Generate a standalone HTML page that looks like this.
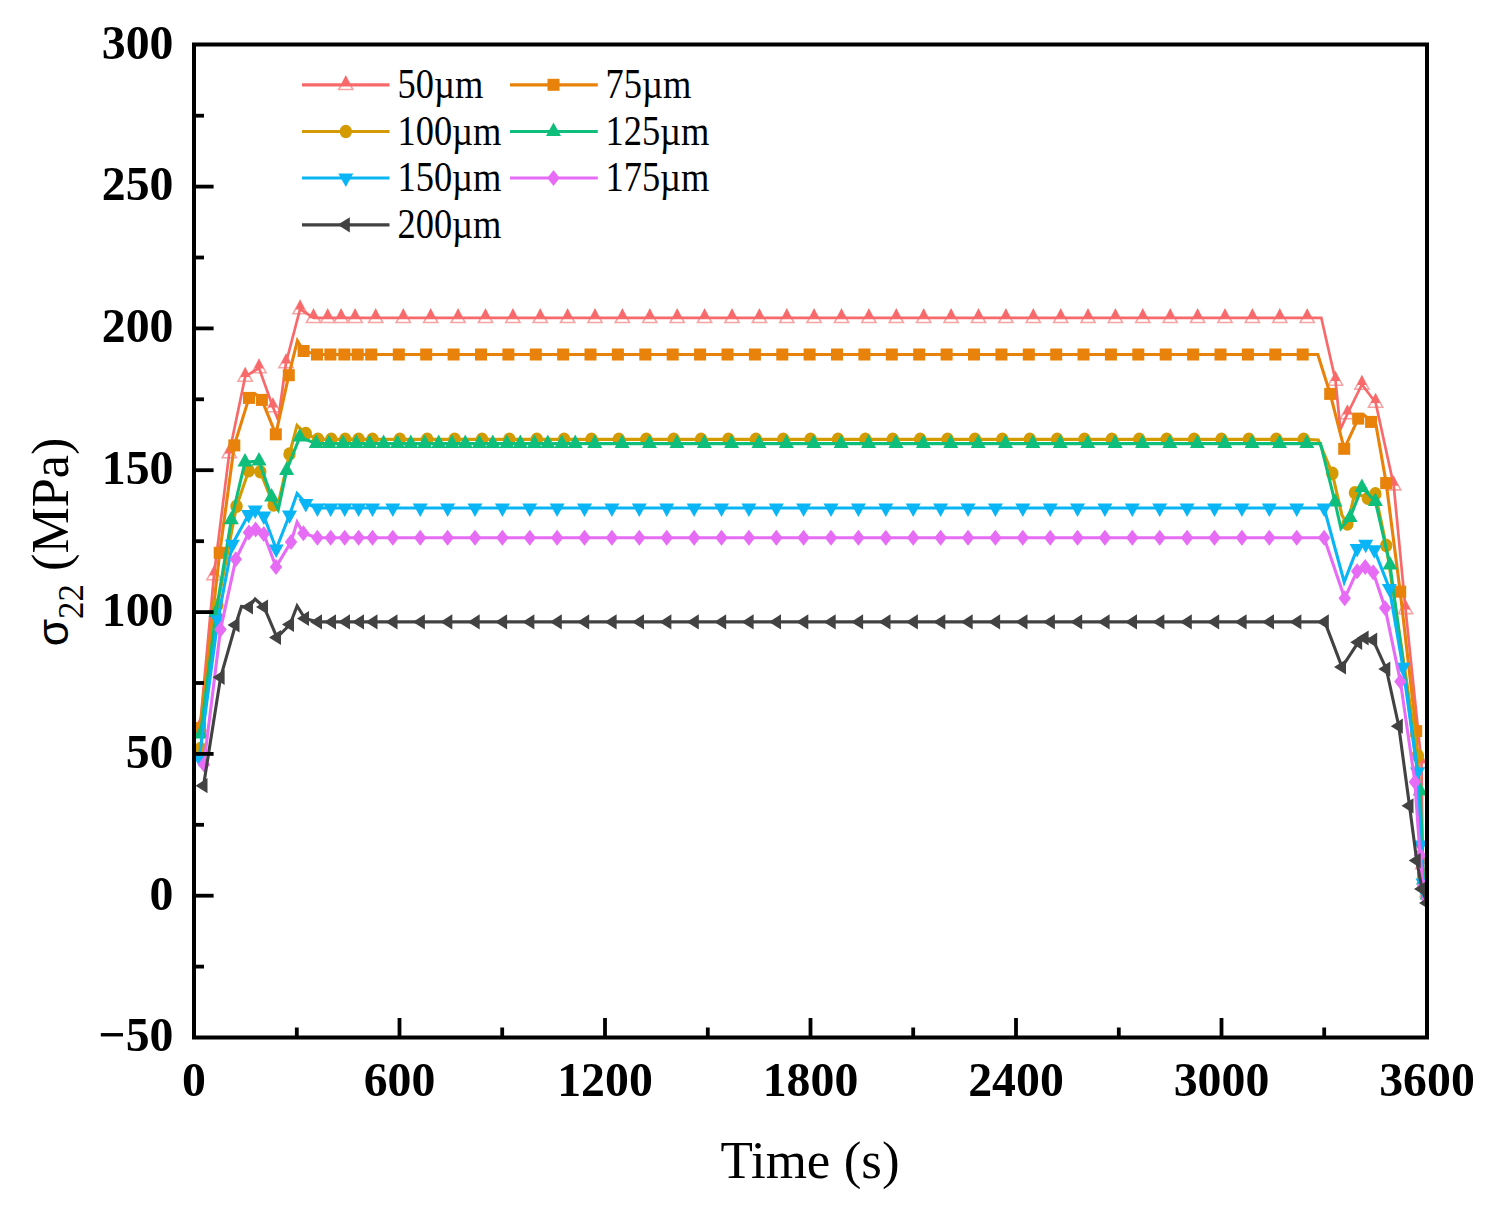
<!DOCTYPE html>
<html><head><meta charset="utf-8"><style>
html,body{margin:0;padding:0;background:#fff;}
svg{display:block;}
.tk{font-family:"Liberation Serif",serif;font-weight:bold;font-size:49px;fill:#000;}
.lg{font-family:"Liberation Serif",serif;font-size:42px;fill:#000;}
.ti{font-family:"Liberation Serif",serif;font-size:53px;fill:#000;}
</style></head><body>
<svg width="1492" height="1207" viewBox="0 0 1492 1207">
<rect width="1492" height="1207" fill="#fff"/>
<defs><clipPath id="pc"><rect x="194" y="44.5" width="1233" height="993"/></clipPath></defs><g clip-path="url(#pc)"><path d="M200.0,719.0L207.1,731.7L192.9,731.7Z" fill="#fff" stroke="#F6A3A3" stroke-width="1.6"/><path d="M200.0,717.4L204.8,727.5L195.2,727.5Z" fill="#F8696B"/><path d="M214.0,567.0L221.1,579.7L206.9,579.7Z" fill="#fff" stroke="#F6A3A3" stroke-width="1.6"/><path d="M214.0,565.4L218.8,575.5L209.2,575.5Z" fill="#F8696B"/><path d="M229.3,445.0L236.4,457.7L222.2,457.7Z" fill="#fff" stroke="#F6A3A3" stroke-width="1.6"/><path d="M229.3,443.4L234.1,453.5L224.5,453.5Z" fill="#F8696B"/><path d="M245.2,368.5L252.3,381.2L238.1,381.2Z" fill="#fff" stroke="#F6A3A3" stroke-width="1.6"/><path d="M245.2,366.9L250.0,377.0L240.4,377.0Z" fill="#F8696B"/><path d="M259.0,360.0L266.1,372.7L251.9,372.7Z" fill="#fff" stroke="#F6A3A3" stroke-width="1.6"/><path d="M259.0,358.4L263.8,368.5L254.2,368.5Z" fill="#F8696B"/><path d="M272.9,399.0L280.0,411.7L265.8,411.7Z" fill="#fff" stroke="#F6A3A3" stroke-width="1.6"/><path d="M272.9,397.4L277.7,407.5L268.1,407.5Z" fill="#F8696B"/><path d="M286.0,355.0L293.1,367.7L278.9,367.7Z" fill="#fff" stroke="#F6A3A3" stroke-width="1.6"/><path d="M286.0,353.4L290.8,363.5L281.2,363.5Z" fill="#F8696B"/><path d="M300.1,301.0L307.2,313.7L293.0,313.7Z" fill="#fff" stroke="#F6A3A3" stroke-width="1.6"/><path d="M300.1,299.4L304.9,309.5L295.3,309.5Z" fill="#F8696B"/><path d="M313.5,309.8L320.6,322.5L306.4,322.5Z" fill="#fff" stroke="#F6A3A3" stroke-width="1.6"/><path d="M313.5,308.2L318.3,318.3L308.7,318.3Z" fill="#F8696B"/><path d="M327.7,309.8L334.8,322.5L320.6,322.5Z" fill="#fff" stroke="#F6A3A3" stroke-width="1.6"/><path d="M327.7,308.2L332.5,318.3L322.9,318.3Z" fill="#F8696B"/><path d="M341.1,309.8L348.2,322.5L334.0,322.5Z" fill="#fff" stroke="#F6A3A3" stroke-width="1.6"/><path d="M341.1,308.2L345.9,318.3L336.3,318.3Z" fill="#F8696B"/><path d="M355.1,309.8L362.2,322.5L348.0,322.5Z" fill="#fff" stroke="#F6A3A3" stroke-width="1.6"/><path d="M355.1,308.2L359.9,318.3L350.3,318.3Z" fill="#F8696B"/><path d="M375.7,309.8L382.8,322.5L368.6,322.5Z" fill="#fff" stroke="#F6A3A3" stroke-width="1.6"/><path d="M375.7,308.2L380.5,318.3L370.9,318.3Z" fill="#F8696B"/><path d="M403.3,309.8L410.4,322.5L396.2,322.5Z" fill="#fff" stroke="#F6A3A3" stroke-width="1.6"/><path d="M403.3,308.2L408.1,318.3L398.5,318.3Z" fill="#F8696B"/><path d="M430.7,309.8L437.8,322.5L423.6,322.5Z" fill="#fff" stroke="#F6A3A3" stroke-width="1.6"/><path d="M430.7,308.2L435.5,318.3L425.9,318.3Z" fill="#F8696B"/><path d="M458.1,309.8L465.2,322.5L451.0,322.5Z" fill="#fff" stroke="#F6A3A3" stroke-width="1.6"/><path d="M458.1,308.2L462.9,318.3L453.3,318.3Z" fill="#F8696B"/><path d="M485.5,309.8L492.6,322.5L478.4,322.5Z" fill="#fff" stroke="#F6A3A3" stroke-width="1.6"/><path d="M485.5,308.2L490.3,318.3L480.7,318.3Z" fill="#F8696B"/><path d="M512.9,309.8L520.0,322.5L505.8,322.5Z" fill="#fff" stroke="#F6A3A3" stroke-width="1.6"/><path d="M512.9,308.2L517.7,318.3L508.1,318.3Z" fill="#F8696B"/><path d="M540.2,309.8L547.4,322.5L533.1,322.5Z" fill="#fff" stroke="#F6A3A3" stroke-width="1.6"/><path d="M540.2,308.2L545.0,318.3L535.5,318.3Z" fill="#F8696B"/><path d="M567.6,309.8L574.7,322.5L560.5,322.5Z" fill="#fff" stroke="#F6A3A3" stroke-width="1.6"/><path d="M567.6,308.2L572.4,318.3L562.8,318.3Z" fill="#F8696B"/><path d="M595.0,309.8L602.1,322.5L587.9,322.5Z" fill="#fff" stroke="#F6A3A3" stroke-width="1.6"/><path d="M595.0,308.2L599.8,318.3L590.2,318.3Z" fill="#F8696B"/><path d="M622.4,309.8L629.5,322.5L615.3,322.5Z" fill="#fff" stroke="#F6A3A3" stroke-width="1.6"/><path d="M622.4,308.2L627.2,318.3L617.6,318.3Z" fill="#F8696B"/><path d="M649.8,309.8L656.9,322.5L642.7,322.5Z" fill="#fff" stroke="#F6A3A3" stroke-width="1.6"/><path d="M649.8,308.2L654.6,318.3L645.0,318.3Z" fill="#F8696B"/><path d="M677.2,309.8L684.3,322.5L670.1,322.5Z" fill="#fff" stroke="#F6A3A3" stroke-width="1.6"/><path d="M677.2,308.2L682.0,318.3L672.4,318.3Z" fill="#F8696B"/><path d="M704.6,309.8L711.7,322.5L697.5,322.5Z" fill="#fff" stroke="#F6A3A3" stroke-width="1.6"/><path d="M704.6,308.2L709.4,318.3L699.8,318.3Z" fill="#F8696B"/><path d="M732.0,309.8L739.1,322.5L724.9,322.5Z" fill="#fff" stroke="#F6A3A3" stroke-width="1.6"/><path d="M732.0,308.2L736.8,318.3L727.2,318.3Z" fill="#F8696B"/><path d="M759.4,309.8L766.5,322.5L752.3,322.5Z" fill="#fff" stroke="#F6A3A3" stroke-width="1.6"/><path d="M759.4,308.2L764.2,318.3L754.6,318.3Z" fill="#F8696B"/><path d="M786.8,309.8L793.9,322.5L779.7,322.5Z" fill="#fff" stroke="#F6A3A3" stroke-width="1.6"/><path d="M786.8,308.2L791.6,318.3L782.0,318.3Z" fill="#F8696B"/><path d="M814.1,309.8L821.2,322.5L807.0,322.5Z" fill="#fff" stroke="#F6A3A3" stroke-width="1.6"/><path d="M814.1,308.2L818.9,318.3L809.3,318.3Z" fill="#F8696B"/><path d="M841.5,309.8L848.6,322.5L834.4,322.5Z" fill="#fff" stroke="#F6A3A3" stroke-width="1.6"/><path d="M841.5,308.2L846.3,318.3L836.7,318.3Z" fill="#F8696B"/><path d="M868.9,309.8L876.0,322.5L861.8,322.5Z" fill="#fff" stroke="#F6A3A3" stroke-width="1.6"/><path d="M868.9,308.2L873.7,318.3L864.1,318.3Z" fill="#F8696B"/><path d="M896.3,309.8L903.4,322.5L889.2,322.5Z" fill="#fff" stroke="#F6A3A3" stroke-width="1.6"/><path d="M896.3,308.2L901.1,318.3L891.5,318.3Z" fill="#F8696B"/><path d="M923.7,309.8L930.8,322.5L916.6,322.5Z" fill="#fff" stroke="#F6A3A3" stroke-width="1.6"/><path d="M923.7,308.2L928.5,318.3L918.9,318.3Z" fill="#F8696B"/><path d="M951.1,309.8L958.2,322.5L944.0,322.5Z" fill="#fff" stroke="#F6A3A3" stroke-width="1.6"/><path d="M951.1,308.2L955.9,318.3L946.3,318.3Z" fill="#F8696B"/><path d="M978.5,309.8L985.6,322.5L971.4,322.5Z" fill="#fff" stroke="#F6A3A3" stroke-width="1.6"/><path d="M978.5,308.2L983.3,318.3L973.7,318.3Z" fill="#F8696B"/><path d="M1005.9,309.8L1013.0,322.5L998.8,322.5Z" fill="#fff" stroke="#F6A3A3" stroke-width="1.6"/><path d="M1005.9,308.2L1010.7,318.3L1001.1,318.3Z" fill="#F8696B"/><path d="M1033.3,309.8L1040.4,322.5L1026.2,322.5Z" fill="#fff" stroke="#F6A3A3" stroke-width="1.6"/><path d="M1033.3,308.2L1038.1,318.3L1028.5,318.3Z" fill="#F8696B"/><path d="M1060.7,309.8L1067.8,322.5L1053.6,322.5Z" fill="#fff" stroke="#F6A3A3" stroke-width="1.6"/><path d="M1060.7,308.2L1065.5,318.3L1055.9,318.3Z" fill="#F8696B"/><path d="M1088.0,309.8L1095.1,322.5L1081.0,322.5Z" fill="#fff" stroke="#F6A3A3" stroke-width="1.6"/><path d="M1088.0,308.2L1092.8,318.3L1083.2,318.3Z" fill="#F8696B"/><path d="M1115.4,309.8L1122.5,322.5L1108.3,322.5Z" fill="#fff" stroke="#F6A3A3" stroke-width="1.6"/><path d="M1115.4,308.2L1120.2,318.3L1110.6,318.3Z" fill="#F8696B"/><path d="M1142.8,309.8L1149.9,322.5L1135.7,322.5Z" fill="#fff" stroke="#F6A3A3" stroke-width="1.6"/><path d="M1142.8,308.2L1147.6,318.3L1138.0,318.3Z" fill="#F8696B"/><path d="M1170.2,309.8L1177.3,322.5L1163.1,322.5Z" fill="#fff" stroke="#F6A3A3" stroke-width="1.6"/><path d="M1170.2,308.2L1175.0,318.3L1165.4,318.3Z" fill="#F8696B"/><path d="M1197.6,309.8L1204.7,322.5L1190.5,322.5Z" fill="#fff" stroke="#F6A3A3" stroke-width="1.6"/><path d="M1197.6,308.2L1202.4,318.3L1192.8,318.3Z" fill="#F8696B"/><path d="M1225.0,309.8L1232.1,322.5L1217.9,322.5Z" fill="#fff" stroke="#F6A3A3" stroke-width="1.6"/><path d="M1225.0,308.2L1229.8,318.3L1220.2,318.3Z" fill="#F8696B"/><path d="M1252.4,309.8L1259.5,322.5L1245.3,322.5Z" fill="#fff" stroke="#F6A3A3" stroke-width="1.6"/><path d="M1252.4,308.2L1257.2,318.3L1247.6,318.3Z" fill="#F8696B"/><path d="M1279.8,309.8L1286.9,322.5L1272.7,322.5Z" fill="#fff" stroke="#F6A3A3" stroke-width="1.6"/><path d="M1279.8,308.2L1284.6,318.3L1275.0,318.3Z" fill="#F8696B"/><path d="M1307.2,309.8L1314.3,322.5L1300.1,322.5Z" fill="#fff" stroke="#F6A3A3" stroke-width="1.6"/><path d="M1307.2,308.2L1312.0,318.3L1302.4,318.3Z" fill="#F8696B"/><path d="M1335.5,372.5L1342.6,385.2L1328.4,385.2Z" fill="#fff" stroke="#F6A3A3" stroke-width="1.6"/><path d="M1335.5,370.9L1340.3,381.0L1330.7,381.0Z" fill="#F8696B"/><path d="M1347.4,406.0L1354.5,418.7L1340.3,418.7Z" fill="#fff" stroke="#F6A3A3" stroke-width="1.6"/><path d="M1347.4,404.4L1352.2,414.5L1342.6,414.5Z" fill="#F8696B"/><path d="M1361.9,376.5L1369.0,389.2L1354.8,389.2Z" fill="#fff" stroke="#F6A3A3" stroke-width="1.6"/><path d="M1361.9,374.9L1366.7,385.0L1357.1,385.0Z" fill="#F8696B"/><path d="M1375.6,394.5L1382.7,407.2L1368.5,407.2Z" fill="#fff" stroke="#F6A3A3" stroke-width="1.6"/><path d="M1375.6,392.9L1380.4,403.0L1370.8,403.0Z" fill="#F8696B"/><path d="M1393.7,477.2L1400.8,489.9L1386.6,489.9Z" fill="#fff" stroke="#F6A3A3" stroke-width="1.6"/><path d="M1393.7,475.6L1398.5,485.7L1388.9,485.7Z" fill="#F8696B"/><path d="M1405.5,600.9L1412.6,613.6L1398.4,613.6Z" fill="#fff" stroke="#F6A3A3" stroke-width="1.6"/><path d="M1405.5,599.3L1410.3,609.4L1400.7,609.4Z" fill="#F8696B"/><path d="M1421.5,755.0L1428.6,767.7L1414.4,767.7Z" fill="#fff" stroke="#F6A3A3" stroke-width="1.6"/><path d="M1421.5,753.4L1426.3,763.5L1416.7,763.5Z" fill="#F8696B"/><path d="M1422.8,856.0L1429.9,868.7L1415.7,868.7Z" fill="#fff" stroke="#F6A3A3" stroke-width="1.6"/><path d="M1422.8,854.4L1427.6,864.5L1418.0,864.5Z" fill="#F8696B"/><path d="M1427.0,884.0L1434.1,896.7L1419.9,896.7Z" fill="#fff" stroke="#F6A3A3" stroke-width="1.6"/><path d="M1427.0,882.4L1431.8,892.5L1422.2,892.5Z" fill="#F8696B"/><path d="M200.0,727.0 L214.0,575.0 L229.3,453.0 L245.2,376.5 L259.0,368.0 L272.9,407.0 L278.2,420.0 L286.0,363.0 L300.1,309.0 L313.5,317.8 L327.7,317.8 L341.1,317.8 L355.1,317.8 L375.7,317.8 L403.3,317.8 L430.7,317.8 L458.1,317.8 L485.5,317.8 L512.9,317.8 L540.2,317.8 L567.6,317.8 L595.0,317.8 L622.4,317.8 L649.8,317.8 L677.2,317.8 L704.6,317.8 L732.0,317.8 L759.4,317.8 L786.8,317.8 L814.1,317.8 L841.5,317.8 L868.9,317.8 L896.3,317.8 L923.7,317.8 L951.1,317.8 L978.5,317.8 L1005.9,317.8 L1033.3,317.8 L1060.7,317.8 L1088.0,317.8 L1115.4,317.8 L1142.8,317.8 L1170.2,317.8 L1197.6,317.8 L1225.0,317.8 L1252.4,317.8 L1279.8,317.8 L1307.2,317.8 L1321.3,317.8 L1335.5,380.5 L1340.4,429.4 L1347.4,414.0 L1361.9,384.5 L1375.6,402.5 L1393.7,485.2 L1405.5,608.9 L1421.5,763.0 L1422.8,864.0 L1427.0,892.0" fill="none" stroke="#F8696B" stroke-width="2.7" stroke-linejoin="miter"/>
<path d="M200.0,728.0 L219.7,552.8 L234.3,445.4 L249.0,397.9 L255.2,394.0 L261.9,399.9 L275.8,434.3 L288.8,375.2 L297.4,340.7 L303.6,351.0 L317.0,354.5 L330.4,354.5 L344.3,354.5 L357.7,354.5 L371.2,354.5 L398.8,354.5 L426.2,354.5 L453.6,354.5 L481.0,354.5 L508.4,354.5 L535.8,354.5 L563.1,354.5 L590.5,354.5 L617.9,354.5 L645.3,354.5 L672.7,354.5 L700.1,354.5 L727.5,354.5 L754.9,354.5 L782.3,354.5 L809.6,354.5 L837.0,354.5 L864.4,354.5 L891.8,354.5 L919.2,354.5 L946.6,354.5 L974.0,354.5 L1001.4,354.5 L1028.8,354.5 L1056.2,354.5 L1083.5,354.5 L1110.9,354.5 L1138.3,354.5 L1165.7,354.5 L1193.1,354.5 L1220.5,354.5 L1247.9,354.5 L1275.3,354.5 L1302.7,354.5 L1317.8,354.5 L1330.2,393.9 L1344.2,448.8 L1358.2,418.6 L1364.6,415.4 L1371.1,421.9 L1376.0,425.0 L1386.2,483.1 L1400.2,591.7 L1416.2,731.1 L1423.0,878.0 L1427.0,892.0" fill="none" stroke="#E8820A" stroke-width="3.1" stroke-linejoin="miter"/><rect x="194.0" y="722.0" width="12" height="12" fill="#E8820A"/><rect x="213.7" y="546.8" width="12" height="12" fill="#E8820A"/><rect x="228.3" y="439.4" width="12" height="12" fill="#E8820A"/><rect x="243.0" y="391.9" width="12" height="12" fill="#E8820A"/><rect x="255.9" y="393.9" width="12" height="12" fill="#E8820A"/><rect x="269.8" y="428.3" width="12" height="12" fill="#E8820A"/><rect x="282.8" y="369.2" width="12" height="12" fill="#E8820A"/><rect x="297.6" y="345.0" width="12" height="12" fill="#E8820A"/><rect x="311.0" y="348.5" width="12" height="12" fill="#E8820A"/><rect x="324.4" y="348.5" width="12" height="12" fill="#E8820A"/><rect x="338.3" y="348.5" width="12" height="12" fill="#E8820A"/><rect x="351.7" y="348.5" width="12" height="12" fill="#E8820A"/><rect x="365.2" y="348.5" width="12" height="12" fill="#E8820A"/><rect x="392.8" y="348.5" width="12" height="12" fill="#E8820A"/><rect x="420.2" y="348.5" width="12" height="12" fill="#E8820A"/><rect x="447.6" y="348.5" width="12" height="12" fill="#E8820A"/><rect x="475.0" y="348.5" width="12" height="12" fill="#E8820A"/><rect x="502.4" y="348.5" width="12" height="12" fill="#E8820A"/><rect x="529.8" y="348.5" width="12" height="12" fill="#E8820A"/><rect x="557.1" y="348.5" width="12" height="12" fill="#E8820A"/><rect x="584.5" y="348.5" width="12" height="12" fill="#E8820A"/><rect x="611.9" y="348.5" width="12" height="12" fill="#E8820A"/><rect x="639.3" y="348.5" width="12" height="12" fill="#E8820A"/><rect x="666.7" y="348.5" width="12" height="12" fill="#E8820A"/><rect x="694.1" y="348.5" width="12" height="12" fill="#E8820A"/><rect x="721.5" y="348.5" width="12" height="12" fill="#E8820A"/><rect x="748.9" y="348.5" width="12" height="12" fill="#E8820A"/><rect x="776.3" y="348.5" width="12" height="12" fill="#E8820A"/><rect x="803.6" y="348.5" width="12" height="12" fill="#E8820A"/><rect x="831.0" y="348.5" width="12" height="12" fill="#E8820A"/><rect x="858.4" y="348.5" width="12" height="12" fill="#E8820A"/><rect x="885.8" y="348.5" width="12" height="12" fill="#E8820A"/><rect x="913.2" y="348.5" width="12" height="12" fill="#E8820A"/><rect x="940.6" y="348.5" width="12" height="12" fill="#E8820A"/><rect x="968.0" y="348.5" width="12" height="12" fill="#E8820A"/><rect x="995.4" y="348.5" width="12" height="12" fill="#E8820A"/><rect x="1022.8" y="348.5" width="12" height="12" fill="#E8820A"/><rect x="1050.2" y="348.5" width="12" height="12" fill="#E8820A"/><rect x="1077.5" y="348.5" width="12" height="12" fill="#E8820A"/><rect x="1104.9" y="348.5" width="12" height="12" fill="#E8820A"/><rect x="1132.3" y="348.5" width="12" height="12" fill="#E8820A"/><rect x="1159.7" y="348.5" width="12" height="12" fill="#E8820A"/><rect x="1187.1" y="348.5" width="12" height="12" fill="#E8820A"/><rect x="1214.5" y="348.5" width="12" height="12" fill="#E8820A"/><rect x="1241.9" y="348.5" width="12" height="12" fill="#E8820A"/><rect x="1269.3" y="348.5" width="12" height="12" fill="#E8820A"/><rect x="1296.7" y="348.5" width="12" height="12" fill="#E8820A"/><rect x="1324.2" y="387.9" width="12" height="12" fill="#E8820A"/><rect x="1338.2" y="442.8" width="12" height="12" fill="#E8820A"/><rect x="1352.2" y="412.6" width="12" height="12" fill="#E8820A"/><rect x="1365.1" y="415.9" width="12" height="12" fill="#E8820A"/><rect x="1380.2" y="477.1" width="12" height="12" fill="#E8820A"/><rect x="1394.2" y="585.7" width="12" height="12" fill="#E8820A"/><rect x="1410.2" y="725.1" width="12" height="12" fill="#E8820A"/><rect x="1417.0" y="872.0" width="12" height="12" fill="#E8820A"/><rect x="1421.0" y="886.0" width="12" height="12" fill="#E8820A"/>
<path d="M200.6,748.6 L217.5,605.0 L236.5,506.3 L248.7,470.8 L260.3,471.8 L273.6,505.0 L277.0,509.0 L289.5,454.0 L297.0,425.5 L305.8,433.6 L318.0,439.4 L331.3,439.4 L345.2,439.4 L358.6,439.4 L372.5,439.4 L399.8,439.4 L427.2,439.4 L454.6,439.4 L482.0,439.4 L509.4,439.4 L536.8,439.4 L564.1,439.4 L591.5,439.4 L618.9,439.4 L646.3,439.4 L673.7,439.4 L701.1,439.4 L728.5,439.4 L755.9,439.4 L783.3,439.4 L810.6,439.4 L838.0,439.4 L865.4,439.4 L892.8,439.4 L920.2,439.4 L947.6,439.4 L975.0,439.4 L1002.4,439.4 L1029.8,439.4 L1057.2,439.4 L1084.5,439.4 L1111.9,439.4 L1139.3,439.4 L1166.7,439.4 L1194.1,439.4 L1221.5,439.4 L1248.9,439.4 L1276.3,439.4 L1303.7,439.4 L1318.3,440.0 L1332.3,473.4 L1342.0,515.4 L1347.4,524.0 L1354.9,492.8 L1367.9,498.2 L1375.4,493.9 L1386.2,545.5 L1417.8,755.6 L1423.0,877.0 L1427.0,894.0" fill="none" stroke="#D49A02" stroke-width="3.1" stroke-linejoin="miter"/><ellipse cx="200.6" cy="748.6" rx="6.2" ry="6.8" fill="#D49A02"/><ellipse cx="217.5" cy="605.0" rx="6.2" ry="6.8" fill="#D49A02"/><ellipse cx="236.5" cy="506.3" rx="6.2" ry="6.8" fill="#D49A02"/><ellipse cx="248.7" cy="470.8" rx="6.2" ry="6.8" fill="#D49A02"/><ellipse cx="260.3" cy="471.8" rx="6.2" ry="6.8" fill="#D49A02"/><ellipse cx="273.6" cy="505.0" rx="6.2" ry="6.8" fill="#D49A02"/><ellipse cx="289.5" cy="454.0" rx="6.2" ry="6.8" fill="#D49A02"/><ellipse cx="305.8" cy="433.6" rx="6.2" ry="6.8" fill="#D49A02"/><ellipse cx="318.0" cy="439.4" rx="6.2" ry="6.8" fill="#D49A02"/><ellipse cx="331.3" cy="439.4" rx="6.2" ry="6.8" fill="#D49A02"/><ellipse cx="345.2" cy="439.4" rx="6.2" ry="6.8" fill="#D49A02"/><ellipse cx="358.6" cy="439.4" rx="6.2" ry="6.8" fill="#D49A02"/><ellipse cx="372.5" cy="439.4" rx="6.2" ry="6.8" fill="#D49A02"/><ellipse cx="399.8" cy="439.4" rx="6.2" ry="6.8" fill="#D49A02"/><ellipse cx="427.2" cy="439.4" rx="6.2" ry="6.8" fill="#D49A02"/><ellipse cx="454.6" cy="439.4" rx="6.2" ry="6.8" fill="#D49A02"/><ellipse cx="482.0" cy="439.4" rx="6.2" ry="6.8" fill="#D49A02"/><ellipse cx="509.4" cy="439.4" rx="6.2" ry="6.8" fill="#D49A02"/><ellipse cx="536.8" cy="439.4" rx="6.2" ry="6.8" fill="#D49A02"/><ellipse cx="564.1" cy="439.4" rx="6.2" ry="6.8" fill="#D49A02"/><ellipse cx="591.5" cy="439.4" rx="6.2" ry="6.8" fill="#D49A02"/><ellipse cx="618.9" cy="439.4" rx="6.2" ry="6.8" fill="#D49A02"/><ellipse cx="646.3" cy="439.4" rx="6.2" ry="6.8" fill="#D49A02"/><ellipse cx="673.7" cy="439.4" rx="6.2" ry="6.8" fill="#D49A02"/><ellipse cx="701.1" cy="439.4" rx="6.2" ry="6.8" fill="#D49A02"/><ellipse cx="728.5" cy="439.4" rx="6.2" ry="6.8" fill="#D49A02"/><ellipse cx="755.9" cy="439.4" rx="6.2" ry="6.8" fill="#D49A02"/><ellipse cx="783.3" cy="439.4" rx="6.2" ry="6.8" fill="#D49A02"/><ellipse cx="810.6" cy="439.4" rx="6.2" ry="6.8" fill="#D49A02"/><ellipse cx="838.0" cy="439.4" rx="6.2" ry="6.8" fill="#D49A02"/><ellipse cx="865.4" cy="439.4" rx="6.2" ry="6.8" fill="#D49A02"/><ellipse cx="892.8" cy="439.4" rx="6.2" ry="6.8" fill="#D49A02"/><ellipse cx="920.2" cy="439.4" rx="6.2" ry="6.8" fill="#D49A02"/><ellipse cx="947.6" cy="439.4" rx="6.2" ry="6.8" fill="#D49A02"/><ellipse cx="975.0" cy="439.4" rx="6.2" ry="6.8" fill="#D49A02"/><ellipse cx="1002.4" cy="439.4" rx="6.2" ry="6.8" fill="#D49A02"/><ellipse cx="1029.8" cy="439.4" rx="6.2" ry="6.8" fill="#D49A02"/><ellipse cx="1057.2" cy="439.4" rx="6.2" ry="6.8" fill="#D49A02"/><ellipse cx="1084.5" cy="439.4" rx="6.2" ry="6.8" fill="#D49A02"/><ellipse cx="1111.9" cy="439.4" rx="6.2" ry="6.8" fill="#D49A02"/><ellipse cx="1139.3" cy="439.4" rx="6.2" ry="6.8" fill="#D49A02"/><ellipse cx="1166.7" cy="439.4" rx="6.2" ry="6.8" fill="#D49A02"/><ellipse cx="1194.1" cy="439.4" rx="6.2" ry="6.8" fill="#D49A02"/><ellipse cx="1221.5" cy="439.4" rx="6.2" ry="6.8" fill="#D49A02"/><ellipse cx="1248.9" cy="439.4" rx="6.2" ry="6.8" fill="#D49A02"/><ellipse cx="1276.3" cy="439.4" rx="6.2" ry="6.8" fill="#D49A02"/><ellipse cx="1303.7" cy="439.4" rx="6.2" ry="6.8" fill="#D49A02"/><ellipse cx="1332.3" cy="473.4" rx="6.2" ry="6.8" fill="#D49A02"/><ellipse cx="1347.4" cy="524.0" rx="6.2" ry="6.8" fill="#D49A02"/><ellipse cx="1354.9" cy="492.8" rx="6.2" ry="6.8" fill="#D49A02"/><ellipse cx="1367.9" cy="498.2" rx="6.2" ry="6.8" fill="#D49A02"/><ellipse cx="1375.4" cy="493.9" rx="6.2" ry="6.8" fill="#D49A02"/><ellipse cx="1386.2" cy="545.5" rx="6.2" ry="6.8" fill="#D49A02"/><ellipse cx="1417.8" cy="755.6" rx="6.2" ry="6.8" fill="#D49A02"/><ellipse cx="1423.0" cy="877.0" rx="6.2" ry="6.8" fill="#D49A02"/><ellipse cx="1427.0" cy="894.0" rx="6.2" ry="6.8" fill="#D49A02"/>
<path d="M200.6,734.0 L216.0,612.5 L231.3,519.7 L245.0,462.1 L259.0,461.0 L271.6,497.0 L278.3,509.5 L286.6,470.5 L299.8,437.0 L316.2,443.6 L329.0,443.6 L343.0,443.6 L356.3,443.6 L369.6,443.6 L383.6,443.6 L397.5,443.6 L410.8,443.6 L424.7,443.6 L438.7,443.6 L452.0,443.6 L465.3,443.6 L479.4,443.6 L492.8,443.6 L506.9,443.6 L520.3,443.6 L534.4,443.6 L547.8,443.6 L561.8,443.6 L575.2,443.6 L594.7,443.6 L622.1,443.6 L649.5,443.6 L676.9,443.6 L704.3,443.6 L731.6,443.6 L759.0,443.6 L786.4,443.6 L813.8,443.6 L841.2,443.6 L868.6,443.6 L896.0,443.6 L923.4,443.6 L950.8,443.6 L978.2,443.6 L1005.5,443.6 L1032.9,443.6 L1060.3,443.6 L1087.7,443.6 L1115.1,443.6 L1142.5,443.6 L1169.9,443.6 L1197.3,443.6 L1224.7,443.6 L1252.1,443.6 L1279.5,443.6 L1306.8,443.6 L1320.5,443.6 L1335.0,502.0 L1340.9,528.3 L1350.1,517.5 L1361.9,487.4 L1375.4,501.4 L1390.0,565.0 L1420.2,791.1 L1423.5,880.0 L1427.0,895.0" fill="none" stroke="#10BE7C" stroke-width="3.1" stroke-linejoin="miter"/><path d="M200.6,725.0L208.1,738.5L193.1,738.5Z" fill="#10BE7C"/><path d="M216.0,603.5L223.5,617.0L208.5,617.0Z" fill="#10BE7C"/><path d="M231.3,510.7L238.8,524.2L223.8,524.2Z" fill="#10BE7C"/><path d="M245.0,453.1L252.5,466.6L237.5,466.6Z" fill="#10BE7C"/><path d="M259.0,452.0L266.5,465.5L251.5,465.5Z" fill="#10BE7C"/><path d="M271.6,488.0L279.1,501.5L264.1,501.5Z" fill="#10BE7C"/><path d="M286.6,461.5L294.1,475.0L279.1,475.0Z" fill="#10BE7C"/><path d="M299.8,428.0L307.3,441.5L292.3,441.5Z" fill="#10BE7C"/><path d="M316.2,434.6L323.7,448.1L308.7,448.1Z" fill="#10BE7C"/><path d="M329.0,434.6L336.5,448.1L321.5,448.1Z" fill="#10BE7C"/><path d="M343.0,434.6L350.5,448.1L335.5,448.1Z" fill="#10BE7C"/><path d="M356.3,434.6L363.8,448.1L348.8,448.1Z" fill="#10BE7C"/><path d="M369.6,434.6L377.1,448.1L362.1,448.1Z" fill="#10BE7C"/><path d="M383.6,434.6L391.1,448.1L376.1,448.1Z" fill="#10BE7C"/><path d="M397.5,434.6L405.0,448.1L390.0,448.1Z" fill="#10BE7C"/><path d="M410.8,434.6L418.3,448.1L403.3,448.1Z" fill="#10BE7C"/><path d="M424.7,434.6L432.2,448.1L417.2,448.1Z" fill="#10BE7C"/><path d="M438.7,434.6L446.2,448.1L431.2,448.1Z" fill="#10BE7C"/><path d="M452.0,434.6L459.5,448.1L444.5,448.1Z" fill="#10BE7C"/><path d="M465.3,434.6L472.8,448.1L457.8,448.1Z" fill="#10BE7C"/><path d="M479.4,434.6L486.9,448.1L471.9,448.1Z" fill="#10BE7C"/><path d="M492.8,434.6L500.3,448.1L485.3,448.1Z" fill="#10BE7C"/><path d="M506.9,434.6L514.4,448.1L499.4,448.1Z" fill="#10BE7C"/><path d="M520.3,434.6L527.8,448.1L512.8,448.1Z" fill="#10BE7C"/><path d="M534.4,434.6L541.9,448.1L526.9,448.1Z" fill="#10BE7C"/><path d="M547.8,434.6L555.3,448.1L540.3,448.1Z" fill="#10BE7C"/><path d="M561.8,434.6L569.3,448.1L554.3,448.1Z" fill="#10BE7C"/><path d="M575.2,434.6L582.7,448.1L567.7,448.1Z" fill="#10BE7C"/><path d="M594.7,434.6L602.2,448.1L587.2,448.1Z" fill="#10BE7C"/><path d="M622.1,434.6L629.6,448.1L614.6,448.1Z" fill="#10BE7C"/><path d="M649.5,434.6L657.0,448.1L642.0,448.1Z" fill="#10BE7C"/><path d="M676.9,434.6L684.4,448.1L669.4,448.1Z" fill="#10BE7C"/><path d="M704.3,434.6L711.8,448.1L696.8,448.1Z" fill="#10BE7C"/><path d="M731.6,434.6L739.1,448.1L724.1,448.1Z" fill="#10BE7C"/><path d="M759.0,434.6L766.5,448.1L751.5,448.1Z" fill="#10BE7C"/><path d="M786.4,434.6L793.9,448.1L778.9,448.1Z" fill="#10BE7C"/><path d="M813.8,434.6L821.3,448.1L806.3,448.1Z" fill="#10BE7C"/><path d="M841.2,434.6L848.7,448.1L833.7,448.1Z" fill="#10BE7C"/><path d="M868.6,434.6L876.1,448.1L861.1,448.1Z" fill="#10BE7C"/><path d="M896.0,434.6L903.5,448.1L888.5,448.1Z" fill="#10BE7C"/><path d="M923.4,434.6L930.9,448.1L915.9,448.1Z" fill="#10BE7C"/><path d="M950.8,434.6L958.3,448.1L943.3,448.1Z" fill="#10BE7C"/><path d="M978.2,434.6L985.7,448.1L970.7,448.1Z" fill="#10BE7C"/><path d="M1005.5,434.6L1013.0,448.1L998.0,448.1Z" fill="#10BE7C"/><path d="M1032.9,434.6L1040.4,448.1L1025.4,448.1Z" fill="#10BE7C"/><path d="M1060.3,434.6L1067.8,448.1L1052.8,448.1Z" fill="#10BE7C"/><path d="M1087.7,434.6L1095.2,448.1L1080.2,448.1Z" fill="#10BE7C"/><path d="M1115.1,434.6L1122.6,448.1L1107.6,448.1Z" fill="#10BE7C"/><path d="M1142.5,434.6L1150.0,448.1L1135.0,448.1Z" fill="#10BE7C"/><path d="M1169.9,434.6L1177.4,448.1L1162.4,448.1Z" fill="#10BE7C"/><path d="M1197.3,434.6L1204.8,448.1L1189.8,448.1Z" fill="#10BE7C"/><path d="M1224.7,434.6L1232.2,448.1L1217.2,448.1Z" fill="#10BE7C"/><path d="M1252.1,434.6L1259.6,448.1L1244.6,448.1Z" fill="#10BE7C"/><path d="M1279.5,434.6L1287.0,448.1L1272.0,448.1Z" fill="#10BE7C"/><path d="M1306.8,434.6L1314.3,448.1L1299.3,448.1Z" fill="#10BE7C"/><path d="M1335.0,493.0L1342.5,506.5L1327.5,506.5Z" fill="#10BE7C"/><path d="M1350.1,508.5L1357.6,522.0L1342.6,522.0Z" fill="#10BE7C"/><path d="M1361.9,478.4L1369.4,491.9L1354.4,491.9Z" fill="#10BE7C"/><path d="M1375.4,492.4L1382.9,505.9L1367.9,505.9Z" fill="#10BE7C"/><path d="M1390.0,556.0L1397.5,569.5L1382.5,569.5Z" fill="#10BE7C"/><path d="M1420.2,782.1L1427.7,795.6L1412.7,795.6Z" fill="#10BE7C"/><path d="M1423.5,871.0L1431.0,884.5L1416.0,884.5Z" fill="#10BE7C"/><path d="M1427.0,886.0L1434.5,899.5L1419.5,899.5Z" fill="#10BE7C"/>
<path d="M199.3,757.9 L217.9,619.7 L232.3,544.3 L248.6,514.6 L255.2,510.0 L263.8,516.0 L276.2,549.0 L289.5,515.0 L297.1,493.6 L305.8,503.5 L317.4,508.0 L330.7,508.0 L344.7,508.0 L358.6,508.0 L372.5,508.0 L392.8,508.0 L420.2,508.0 L447.6,508.0 L475.0,508.0 L502.4,508.0 L529.8,508.0 L557.1,508.0 L584.5,508.0 L611.9,508.0 L639.3,508.0 L666.7,508.0 L694.1,508.0 L721.5,508.0 L748.9,508.0 L776.3,508.0 L803.6,508.0 L831.0,508.0 L858.4,508.0 L885.8,508.0 L913.2,508.0 L940.6,508.0 L968.0,508.0 L995.4,508.0 L1022.8,508.0 L1050.2,508.0 L1077.5,508.0 L1104.9,508.0 L1132.3,508.0 L1159.7,508.0 L1187.1,508.0 L1214.5,508.0 L1241.9,508.0 L1269.3,508.0 L1296.7,508.0 L1324.1,508.0 L1344.2,582.0 L1357.1,548.6 L1365.7,544.3 L1374.3,549.7 L1389.4,588.5 L1402.9,667.3 L1417.5,771.9 L1420.5,845.0 L1423.0,883.0 L1427.0,897.0" fill="none" stroke="#0AB5F5" stroke-width="3.1" stroke-linejoin="miter"/><path d="M199.3,766.9L206.8,753.4L191.8,753.4Z" fill="#0AB5F5"/><path d="M217.9,628.7L225.4,615.2L210.4,615.2Z" fill="#0AB5F5"/><path d="M232.3,553.3L239.8,539.8L224.8,539.8Z" fill="#0AB5F5"/><path d="M248.6,523.6L256.1,510.1L241.1,510.1Z" fill="#0AB5F5"/><path d="M255.2,519.0L262.7,505.5L247.7,505.5Z" fill="#0AB5F5"/><path d="M263.8,525.0L271.3,511.5L256.3,511.5Z" fill="#0AB5F5"/><path d="M276.2,558.0L283.7,544.5L268.7,544.5Z" fill="#0AB5F5"/><path d="M289.5,524.0L297.0,510.5L282.0,510.5Z" fill="#0AB5F5"/><path d="M305.8,512.5L313.3,499.0L298.3,499.0Z" fill="#0AB5F5"/><path d="M317.4,517.0L324.9,503.5L309.9,503.5Z" fill="#0AB5F5"/><path d="M330.7,517.0L338.2,503.5L323.2,503.5Z" fill="#0AB5F5"/><path d="M344.7,517.0L352.2,503.5L337.2,503.5Z" fill="#0AB5F5"/><path d="M358.6,517.0L366.1,503.5L351.1,503.5Z" fill="#0AB5F5"/><path d="M372.5,517.0L380.0,503.5L365.0,503.5Z" fill="#0AB5F5"/><path d="M392.8,517.0L400.3,503.5L385.3,503.5Z" fill="#0AB5F5"/><path d="M420.2,517.0L427.7,503.5L412.7,503.5Z" fill="#0AB5F5"/><path d="M447.6,517.0L455.1,503.5L440.1,503.5Z" fill="#0AB5F5"/><path d="M475.0,517.0L482.5,503.5L467.5,503.5Z" fill="#0AB5F5"/><path d="M502.4,517.0L509.9,503.5L494.9,503.5Z" fill="#0AB5F5"/><path d="M529.8,517.0L537.2,503.5L522.2,503.5Z" fill="#0AB5F5"/><path d="M557.1,517.0L564.6,503.5L549.6,503.5Z" fill="#0AB5F5"/><path d="M584.5,517.0L592.0,503.5L577.0,503.5Z" fill="#0AB5F5"/><path d="M611.9,517.0L619.4,503.5L604.4,503.5Z" fill="#0AB5F5"/><path d="M639.3,517.0L646.8,503.5L631.8,503.5Z" fill="#0AB5F5"/><path d="M666.7,517.0L674.2,503.5L659.2,503.5Z" fill="#0AB5F5"/><path d="M694.1,517.0L701.6,503.5L686.6,503.5Z" fill="#0AB5F5"/><path d="M721.5,517.0L729.0,503.5L714.0,503.5Z" fill="#0AB5F5"/><path d="M748.9,517.0L756.4,503.5L741.4,503.5Z" fill="#0AB5F5"/><path d="M776.3,517.0L783.8,503.5L768.8,503.5Z" fill="#0AB5F5"/><path d="M803.6,517.0L811.1,503.5L796.1,503.5Z" fill="#0AB5F5"/><path d="M831.0,517.0L838.5,503.5L823.5,503.5Z" fill="#0AB5F5"/><path d="M858.4,517.0L865.9,503.5L850.9,503.5Z" fill="#0AB5F5"/><path d="M885.8,517.0L893.3,503.5L878.3,503.5Z" fill="#0AB5F5"/><path d="M913.2,517.0L920.7,503.5L905.7,503.5Z" fill="#0AB5F5"/><path d="M940.6,517.0L948.1,503.5L933.1,503.5Z" fill="#0AB5F5"/><path d="M968.0,517.0L975.5,503.5L960.5,503.5Z" fill="#0AB5F5"/><path d="M995.4,517.0L1002.9,503.5L987.9,503.5Z" fill="#0AB5F5"/><path d="M1022.8,517.0L1030.3,503.5L1015.3,503.5Z" fill="#0AB5F5"/><path d="M1050.2,517.0L1057.7,503.5L1042.7,503.5Z" fill="#0AB5F5"/><path d="M1077.5,517.0L1085.0,503.5L1070.0,503.5Z" fill="#0AB5F5"/><path d="M1104.9,517.0L1112.4,503.5L1097.4,503.5Z" fill="#0AB5F5"/><path d="M1132.3,517.0L1139.8,503.5L1124.8,503.5Z" fill="#0AB5F5"/><path d="M1159.7,517.0L1167.2,503.5L1152.2,503.5Z" fill="#0AB5F5"/><path d="M1187.1,517.0L1194.6,503.5L1179.6,503.5Z" fill="#0AB5F5"/><path d="M1214.5,517.0L1222.0,503.5L1207.0,503.5Z" fill="#0AB5F5"/><path d="M1241.9,517.0L1249.4,503.5L1234.4,503.5Z" fill="#0AB5F5"/><path d="M1269.3,517.0L1276.8,503.5L1261.8,503.5Z" fill="#0AB5F5"/><path d="M1296.7,517.0L1304.2,503.5L1289.2,503.5Z" fill="#0AB5F5"/><path d="M1324.1,517.0L1331.6,503.5L1316.6,503.5Z" fill="#0AB5F5"/><path d="M1357.1,557.6L1364.6,544.1L1349.6,544.1Z" fill="#0AB5F5"/><path d="M1365.7,553.3L1373.2,539.8L1358.2,539.8Z" fill="#0AB5F5"/><path d="M1374.3,558.7L1381.8,545.2L1366.8,545.2Z" fill="#0AB5F5"/><path d="M1389.4,597.5L1396.9,584.0L1381.9,584.0Z" fill="#0AB5F5"/><path d="M1402.9,676.3L1410.4,662.8L1395.4,662.8Z" fill="#0AB5F5"/><path d="M1417.5,780.9L1425.0,767.4L1410.0,767.4Z" fill="#0AB5F5"/><path d="M1420.5,854.0L1428.0,840.5L1413.0,840.5Z" fill="#0AB5F5"/><path d="M1423.0,892.0L1430.5,878.5L1415.5,878.5Z" fill="#0AB5F5"/><path d="M1427.0,906.0L1434.5,892.5L1419.5,892.5Z" fill="#0AB5F5"/>
<path d="M203.9,764.5 L220.5,629.6 L235.8,559.3 L248.9,532.5 L255.6,529.5 L263.8,534.0 L276.0,566.9 L291.0,542.0 L297.1,522.1 L303.4,533.3 L317.4,537.7 L330.7,537.7 L344.7,537.7 L358.6,537.7 L372.5,537.7 L392.8,537.7 L420.2,537.7 L447.6,537.7 L475.0,537.7 L502.4,537.7 L529.8,537.7 L557.1,537.7 L584.5,537.7 L611.9,537.7 L639.3,537.7 L666.7,537.7 L694.1,537.7 L721.5,537.7 L748.9,537.7 L776.3,537.7 L803.6,537.7 L831.0,537.7 L858.4,537.7 L885.8,537.7 L913.2,537.7 L940.6,537.7 L968.0,537.7 L995.4,537.7 L1022.8,537.7 L1050.2,537.7 L1077.5,537.7 L1104.9,537.7 L1132.3,537.7 L1159.7,537.7 L1187.1,537.7 L1214.5,537.7 L1241.9,537.7 L1269.3,537.7 L1296.7,537.7 L1324.1,537.7 L1344.7,598.2 L1357.1,571.2 L1365.2,566.9 L1373.2,572.3 L1385.1,607.9 L1400.4,681.4 L1414.9,781.9 L1420.0,855.0 L1423.0,886.0 L1427.0,899.0" fill="none" stroke="#E66BF5" stroke-width="3.1" stroke-linejoin="miter"/><path d="M203.9,756.5L210.1,764.5L203.9,772.5L197.7,764.5Z" fill="#E66BF5"/><path d="M220.5,621.6L226.7,629.6L220.5,637.6L214.3,629.6Z" fill="#E66BF5"/><path d="M235.8,551.3L242.0,559.3L235.8,567.3L229.6,559.3Z" fill="#E66BF5"/><path d="M248.9,524.5L255.1,532.5L248.9,540.5L242.7,532.5Z" fill="#E66BF5"/><path d="M255.6,521.5L261.8,529.5L255.6,537.5L249.4,529.5Z" fill="#E66BF5"/><path d="M263.8,526.0L270.0,534.0L263.8,542.0L257.6,534.0Z" fill="#E66BF5"/><path d="M276.0,558.9L282.2,566.9L276.0,574.9L269.8,566.9Z" fill="#E66BF5"/><path d="M291.0,534.0L297.2,542.0L291.0,550.0L284.8,542.0Z" fill="#E66BF5"/><path d="M303.4,525.3L309.6,533.3L303.4,541.3L297.2,533.3Z" fill="#E66BF5"/><path d="M317.4,529.7L323.6,537.7L317.4,545.7L311.2,537.7Z" fill="#E66BF5"/><path d="M330.7,529.7L336.9,537.7L330.7,545.7L324.5,537.7Z" fill="#E66BF5"/><path d="M344.7,529.7L350.9,537.7L344.7,545.7L338.5,537.7Z" fill="#E66BF5"/><path d="M358.6,529.7L364.8,537.7L358.6,545.7L352.4,537.7Z" fill="#E66BF5"/><path d="M372.5,529.7L378.7,537.7L372.5,545.7L366.3,537.7Z" fill="#E66BF5"/><path d="M392.8,529.7L399.0,537.7L392.8,545.7L386.6,537.7Z" fill="#E66BF5"/><path d="M420.2,529.7L426.4,537.7L420.2,545.7L414.0,537.7Z" fill="#E66BF5"/><path d="M447.6,529.7L453.8,537.7L447.6,545.7L441.4,537.7Z" fill="#E66BF5"/><path d="M475.0,529.7L481.2,537.7L475.0,545.7L468.8,537.7Z" fill="#E66BF5"/><path d="M502.4,529.7L508.6,537.7L502.4,545.7L496.2,537.7Z" fill="#E66BF5"/><path d="M529.8,529.7L536.0,537.7L529.8,545.7L523.5,537.7Z" fill="#E66BF5"/><path d="M557.1,529.7L563.3,537.7L557.1,545.7L550.9,537.7Z" fill="#E66BF5"/><path d="M584.5,529.7L590.7,537.7L584.5,545.7L578.3,537.7Z" fill="#E66BF5"/><path d="M611.9,529.7L618.1,537.7L611.9,545.7L605.7,537.7Z" fill="#E66BF5"/><path d="M639.3,529.7L645.5,537.7L639.3,545.7L633.1,537.7Z" fill="#E66BF5"/><path d="M666.7,529.7L672.9,537.7L666.7,545.7L660.5,537.7Z" fill="#E66BF5"/><path d="M694.1,529.7L700.3,537.7L694.1,545.7L687.9,537.7Z" fill="#E66BF5"/><path d="M721.5,529.7L727.7,537.7L721.5,545.7L715.3,537.7Z" fill="#E66BF5"/><path d="M748.9,529.7L755.1,537.7L748.9,545.7L742.7,537.7Z" fill="#E66BF5"/><path d="M776.3,529.7L782.5,537.7L776.3,545.7L770.1,537.7Z" fill="#E66BF5"/><path d="M803.6,529.7L809.8,537.7L803.6,545.7L797.4,537.7Z" fill="#E66BF5"/><path d="M831.0,529.7L837.2,537.7L831.0,545.7L824.8,537.7Z" fill="#E66BF5"/><path d="M858.4,529.7L864.6,537.7L858.4,545.7L852.2,537.7Z" fill="#E66BF5"/><path d="M885.8,529.7L892.0,537.7L885.8,545.7L879.6,537.7Z" fill="#E66BF5"/><path d="M913.2,529.7L919.4,537.7L913.2,545.7L907.0,537.7Z" fill="#E66BF5"/><path d="M940.6,529.7L946.8,537.7L940.6,545.7L934.4,537.7Z" fill="#E66BF5"/><path d="M968.0,529.7L974.2,537.7L968.0,545.7L961.8,537.7Z" fill="#E66BF5"/><path d="M995.4,529.7L1001.6,537.7L995.4,545.7L989.2,537.7Z" fill="#E66BF5"/><path d="M1022.8,529.7L1029.0,537.7L1022.8,545.7L1016.6,537.7Z" fill="#E66BF5"/><path d="M1050.2,529.7L1056.4,537.7L1050.2,545.7L1044.0,537.7Z" fill="#E66BF5"/><path d="M1077.5,529.7L1083.8,537.7L1077.5,545.7L1071.3,537.7Z" fill="#E66BF5"/><path d="M1104.9,529.7L1111.1,537.7L1104.9,545.7L1098.7,537.7Z" fill="#E66BF5"/><path d="M1132.3,529.7L1138.5,537.7L1132.3,545.7L1126.1,537.7Z" fill="#E66BF5"/><path d="M1159.7,529.7L1165.9,537.7L1159.7,545.7L1153.5,537.7Z" fill="#E66BF5"/><path d="M1187.1,529.7L1193.3,537.7L1187.1,545.7L1180.9,537.7Z" fill="#E66BF5"/><path d="M1214.5,529.7L1220.7,537.7L1214.5,545.7L1208.3,537.7Z" fill="#E66BF5"/><path d="M1241.9,529.7L1248.1,537.7L1241.9,545.7L1235.7,537.7Z" fill="#E66BF5"/><path d="M1269.3,529.7L1275.5,537.7L1269.3,545.7L1263.1,537.7Z" fill="#E66BF5"/><path d="M1296.7,529.7L1302.9,537.7L1296.7,545.7L1290.5,537.7Z" fill="#E66BF5"/><path d="M1324.1,529.7L1330.3,537.7L1324.1,545.7L1317.9,537.7Z" fill="#E66BF5"/><path d="M1344.7,590.2L1350.9,598.2L1344.7,606.2L1338.5,598.2Z" fill="#E66BF5"/><path d="M1357.1,563.2L1363.3,571.2L1357.1,579.2L1350.9,571.2Z" fill="#E66BF5"/><path d="M1365.2,558.9L1371.4,566.9L1365.2,574.9L1359.0,566.9Z" fill="#E66BF5"/><path d="M1373.2,564.3L1379.4,572.3L1373.2,580.3L1367.0,572.3Z" fill="#E66BF5"/><path d="M1385.1,599.9L1391.3,607.9L1385.1,615.9L1378.9,607.9Z" fill="#E66BF5"/><path d="M1400.4,673.4L1406.6,681.4L1400.4,689.4L1394.2,681.4Z" fill="#E66BF5"/><path d="M1414.9,773.9L1421.1,781.9L1414.9,789.9L1408.7,781.9Z" fill="#E66BF5"/><path d="M1420.0,847.0L1426.2,855.0L1420.0,863.0L1413.8,855.0Z" fill="#E66BF5"/><path d="M1423.0,878.0L1429.2,886.0L1423.0,894.0L1416.8,886.0Z" fill="#E66BF5"/><path d="M1427.0,891.0L1433.2,899.0L1427.0,907.0L1420.8,899.0Z" fill="#E66BF5"/>
<path d="M203.5,785.7 L220.6,677.3 L235.5,625.0 L241.5,606.5 L249.0,607.0 L255.1,599.0 L264.0,607.0 L277.0,637.5 L290.0,624.5 L297.1,606.0 L305.0,618.5 L318.0,621.9 L332.0,621.9 L346.0,621.9 L360.0,621.9 L373.5,621.9 L393.5,621.9 L420.9,621.9 L448.3,621.9 L475.7,621.9 L503.1,621.9 L530.4,621.9 L557.8,621.9 L585.2,621.9 L612.6,621.9 L640.0,621.9 L667.4,621.9 L694.8,621.9 L722.2,621.9 L749.6,621.9 L777.0,621.9 L804.3,621.9 L831.7,621.9 L859.1,621.9 L886.5,621.9 L913.9,621.9 L941.3,621.9 L968.7,621.9 L996.1,621.9 L1023.5,621.9 L1050.9,621.9 L1078.2,621.9 L1105.6,621.9 L1133.0,621.9 L1160.4,621.9 L1187.8,621.9 L1215.2,621.9 L1242.6,621.9 L1270.0,621.9 L1297.4,621.9 L1324.8,621.9 L1342.0,667.0 L1358.2,642.3 L1364.6,638.0 L1373.2,640.2 L1386.3,669.0 L1398.8,726.2 L1409.5,805.8 L1416.7,860.6 L1422.0,889.0 L1427.0,903.0" fill="none" stroke="#424242" stroke-width="3.1" stroke-linejoin="miter"/><path d="M195.5,785.7L207.5,778.1L207.5,793.3Z" fill="#424242"/><path d="M212.6,677.3L224.6,669.7L224.6,684.9Z" fill="#424242"/><path d="M227.5,625.0L239.5,617.4L239.5,632.6Z" fill="#424242"/><path d="M241.0,607.0L253.0,599.4L253.0,614.6Z" fill="#424242"/><path d="M256.0,607.0L268.0,599.4L268.0,614.6Z" fill="#424242"/><path d="M269.0,637.5L281.0,629.9L281.0,645.1Z" fill="#424242"/><path d="M282.0,624.5L294.0,616.9L294.0,632.1Z" fill="#424242"/><path d="M297.0,618.5L309.0,610.9L309.0,626.1Z" fill="#424242"/><path d="M310.0,621.9L322.0,614.3L322.0,629.5Z" fill="#424242"/><path d="M324.0,621.9L336.0,614.3L336.0,629.5Z" fill="#424242"/><path d="M338.0,621.9L350.0,614.3L350.0,629.5Z" fill="#424242"/><path d="M352.0,621.9L364.0,614.3L364.0,629.5Z" fill="#424242"/><path d="M365.5,621.9L377.5,614.3L377.5,629.5Z" fill="#424242"/><path d="M385.5,621.9L397.5,614.3L397.5,629.5Z" fill="#424242"/><path d="M412.9,621.9L424.9,614.3L424.9,629.5Z" fill="#424242"/><path d="M440.3,621.9L452.3,614.3L452.3,629.5Z" fill="#424242"/><path d="M467.7,621.9L479.7,614.3L479.7,629.5Z" fill="#424242"/><path d="M495.1,621.9L507.1,614.3L507.1,629.5Z" fill="#424242"/><path d="M522.4,621.9L534.4,614.3L534.4,629.5Z" fill="#424242"/><path d="M549.8,621.9L561.8,614.3L561.8,629.5Z" fill="#424242"/><path d="M577.2,621.9L589.2,614.3L589.2,629.5Z" fill="#424242"/><path d="M604.6,621.9L616.6,614.3L616.6,629.5Z" fill="#424242"/><path d="M632.0,621.9L644.0,614.3L644.0,629.5Z" fill="#424242"/><path d="M659.4,621.9L671.4,614.3L671.4,629.5Z" fill="#424242"/><path d="M686.8,621.9L698.8,614.3L698.8,629.5Z" fill="#424242"/><path d="M714.2,621.9L726.2,614.3L726.2,629.5Z" fill="#424242"/><path d="M741.6,621.9L753.6,614.3L753.6,629.5Z" fill="#424242"/><path d="M769.0,621.9L781.0,614.3L781.0,629.5Z" fill="#424242"/><path d="M796.3,621.9L808.3,614.3L808.3,629.5Z" fill="#424242"/><path d="M823.7,621.9L835.7,614.3L835.7,629.5Z" fill="#424242"/><path d="M851.1,621.9L863.1,614.3L863.1,629.5Z" fill="#424242"/><path d="M878.5,621.9L890.5,614.3L890.5,629.5Z" fill="#424242"/><path d="M905.9,621.9L917.9,614.3L917.9,629.5Z" fill="#424242"/><path d="M933.3,621.9L945.3,614.3L945.3,629.5Z" fill="#424242"/><path d="M960.7,621.9L972.7,614.3L972.7,629.5Z" fill="#424242"/><path d="M988.1,621.9L1000.1,614.3L1000.1,629.5Z" fill="#424242"/><path d="M1015.5,621.9L1027.5,614.3L1027.5,629.5Z" fill="#424242"/><path d="M1042.9,621.9L1054.9,614.3L1054.9,629.5Z" fill="#424242"/><path d="M1070.2,621.9L1082.2,614.3L1082.2,629.5Z" fill="#424242"/><path d="M1097.6,621.9L1109.6,614.3L1109.6,629.5Z" fill="#424242"/><path d="M1125.0,621.9L1137.0,614.3L1137.0,629.5Z" fill="#424242"/><path d="M1152.4,621.9L1164.4,614.3L1164.4,629.5Z" fill="#424242"/><path d="M1179.8,621.9L1191.8,614.3L1191.8,629.5Z" fill="#424242"/><path d="M1207.2,621.9L1219.2,614.3L1219.2,629.5Z" fill="#424242"/><path d="M1234.6,621.9L1246.6,614.3L1246.6,629.5Z" fill="#424242"/><path d="M1262.0,621.9L1274.0,614.3L1274.0,629.5Z" fill="#424242"/><path d="M1289.4,621.9L1301.4,614.3L1301.4,629.5Z" fill="#424242"/><path d="M1316.8,621.9L1328.8,614.3L1328.8,629.5Z" fill="#424242"/><path d="M1334.0,667.0L1346.0,659.4L1346.0,674.6Z" fill="#424242"/><path d="M1350.2,642.3L1362.2,634.7L1362.2,649.9Z" fill="#424242"/><path d="M1356.6,638.0L1368.6,630.4L1368.6,645.6Z" fill="#424242"/><path d="M1365.2,640.2L1377.2,632.6L1377.2,647.8Z" fill="#424242"/><path d="M1378.3,669.0L1390.3,661.4L1390.3,676.6Z" fill="#424242"/><path d="M1390.8,726.2L1402.8,718.6L1402.8,733.8Z" fill="#424242"/><path d="M1401.5,805.8L1413.5,798.2L1413.5,813.4Z" fill="#424242"/><path d="M1408.7,860.6L1420.7,853.0L1420.7,868.2Z" fill="#424242"/><path d="M1414.0,889.0L1426.0,881.4L1426.0,896.6Z" fill="#424242"/><path d="M1419.0,903.0L1431.0,895.4L1431.0,910.6Z" fill="#424242"/></g>
<rect x="194.0" y="44.5" width="1233.0" height="993.0" fill="none" stroke="#000" stroke-width="4"/>
<line x1="194.0" y1="966.6" x2="204.0" y2="966.6" stroke="#000" stroke-width="3.8"/>
<line x1="194.0" y1="895.7" x2="213.6" y2="895.7" stroke="#000" stroke-width="3.8"/>
<line x1="194.0" y1="824.8" x2="204.0" y2="824.8" stroke="#000" stroke-width="3.8"/>
<line x1="194.0" y1="753.9" x2="213.6" y2="753.9" stroke="#000" stroke-width="3.8"/>
<line x1="194.0" y1="683.0" x2="204.0" y2="683.0" stroke="#000" stroke-width="3.8"/>
<line x1="194.0" y1="612.1" x2="213.6" y2="612.1" stroke="#000" stroke-width="3.8"/>
<line x1="194.0" y1="541.2" x2="204.0" y2="541.2" stroke="#000" stroke-width="3.8"/>
<line x1="194.0" y1="470.2" x2="213.6" y2="470.2" stroke="#000" stroke-width="3.8"/>
<line x1="194.0" y1="399.3" x2="204.0" y2="399.3" stroke="#000" stroke-width="3.8"/>
<line x1="194.0" y1="328.4" x2="213.6" y2="328.4" stroke="#000" stroke-width="3.8"/>
<line x1="194.0" y1="257.5" x2="204.0" y2="257.5" stroke="#000" stroke-width="3.8"/>
<line x1="194.0" y1="186.6" x2="213.6" y2="186.6" stroke="#000" stroke-width="3.8"/>
<line x1="194.0" y1="115.7" x2="204.0" y2="115.7" stroke="#000" stroke-width="3.8"/>
<line x1="296.8" y1="1037.5" x2="296.8" y2="1027.5" stroke="#000" stroke-width="3.8"/>
<line x1="399.5" y1="1037.5" x2="399.5" y2="1018.0" stroke="#000" stroke-width="3.8"/>
<line x1="502.2" y1="1037.5" x2="502.2" y2="1027.5" stroke="#000" stroke-width="3.8"/>
<line x1="605.0" y1="1037.5" x2="605.0" y2="1018.0" stroke="#000" stroke-width="3.8"/>
<line x1="707.8" y1="1037.5" x2="707.8" y2="1027.5" stroke="#000" stroke-width="3.8"/>
<line x1="810.5" y1="1037.5" x2="810.5" y2="1018.0" stroke="#000" stroke-width="3.8"/>
<line x1="913.2" y1="1037.5" x2="913.2" y2="1027.5" stroke="#000" stroke-width="3.8"/>
<line x1="1016.0" y1="1037.5" x2="1016.0" y2="1018.0" stroke="#000" stroke-width="3.8"/>
<line x1="1118.8" y1="1037.5" x2="1118.8" y2="1027.5" stroke="#000" stroke-width="3.8"/>
<line x1="1221.5" y1="1037.5" x2="1221.5" y2="1018.0" stroke="#000" stroke-width="3.8"/>
<line x1="1324.2" y1="1037.5" x2="1324.2" y2="1027.5" stroke="#000" stroke-width="3.8"/>
<text transform="translate(173.5,1051.3) scale(0.975,1)" text-anchor="end" class="tk">−50</text>
<text transform="translate(173.5,909.5) scale(0.975,1)" text-anchor="end" class="tk">0</text>
<text transform="translate(173.5,767.7) scale(0.975,1)" text-anchor="end" class="tk">50</text>
<text transform="translate(173.5,625.9) scale(0.975,1)" text-anchor="end" class="tk">100</text>
<text transform="translate(173.5,484.0) scale(0.975,1)" text-anchor="end" class="tk">150</text>
<text transform="translate(173.5,342.2) scale(0.975,1)" text-anchor="end" class="tk">200</text>
<text transform="translate(173.5,200.4) scale(0.975,1)" text-anchor="end" class="tk">250</text>
<text transform="translate(173.5,58.6) scale(0.975,1)" text-anchor="end" class="tk">300</text>
<text transform="translate(194.0,1095.5) scale(0.975,1)" text-anchor="middle" class="tk">0</text>
<text transform="translate(399.5,1095.5) scale(0.975,1)" text-anchor="middle" class="tk">600</text>
<text transform="translate(605.0,1095.5) scale(0.975,1)" text-anchor="middle" class="tk">1200</text>
<text transform="translate(810.5,1095.5) scale(0.975,1)" text-anchor="middle" class="tk">1800</text>
<text transform="translate(1016.0,1095.5) scale(0.975,1)" text-anchor="middle" class="tk">2400</text>
<text transform="translate(1221.5,1095.5) scale(0.975,1)" text-anchor="middle" class="tk">3000</text>
<text transform="translate(1427.0,1095.5) scale(0.975,1)" text-anchor="middle" class="tk">3600</text>
<path d="M345.8,76.8L352.9,89.5L338.7,89.5Z" fill="#fff" stroke="#F6A3A3" stroke-width="1.6"/><path d="M345.8,75.2L350.6,85.3L341.0,85.3Z" fill="#F8696B"/><line x1="302" y1="84.8" x2="389.5" y2="84.8" stroke="#F8696B" stroke-width="3.2"/>
<text transform="translate(397.5,97.8) scale(0.867,1)" class="lg">50µm</text>
<line x1="510" y1="84.8" x2="597.8" y2="84.8" stroke="#E8820A" stroke-width="3.2"/><rect x="547.5" y="78.8" width="12" height="12" fill="#E8820A"/>
<text transform="translate(605.5,97.8) scale(0.867,1)" class="lg">75µm</text>
<line x1="302" y1="131.5" x2="389.5" y2="131.5" stroke="#D49A02" stroke-width="3.2"/><ellipse cx="345.8" cy="131.5" rx="6.2" ry="6.8" fill="#D49A02"/>
<text transform="translate(397.5,144.5) scale(0.867,1)" class="lg">100µm</text>
<line x1="510" y1="131.5" x2="597.8" y2="131.5" stroke="#10BE7C" stroke-width="3.2"/><path d="M553.5,122.5L561.0,136.0L546.0,136.0Z" fill="#10BE7C"/>
<text transform="translate(605.5,144.5) scale(0.867,1)" class="lg">125µm</text>
<line x1="302" y1="178" x2="389.5" y2="178" stroke="#0AB5F5" stroke-width="3.2"/><path d="M345.8,187.0L353.3,173.5L338.3,173.5Z" fill="#0AB5F5"/>
<text transform="translate(397.5,191.0) scale(0.867,1)" class="lg">150µm</text>
<line x1="510" y1="178" x2="597.8" y2="178" stroke="#E66BF5" stroke-width="3.2"/><path d="M553.5,170.0L559.7,178.0L553.5,186.0L547.3,178.0Z" fill="#E66BF5"/>
<text transform="translate(605.5,191.0) scale(0.867,1)" class="lg">175µm</text>
<line x1="302" y1="224.8" x2="389.5" y2="224.8" stroke="#424242" stroke-width="3.2"/><path d="M337.8,224.8L349.8,217.2L349.8,232.4Z" fill="#424242"/>
<text transform="translate(397.5,237.8) scale(0.867,1)" class="lg">200µm</text>
<text x="810" y="1177.5" text-anchor="middle" class="ti">Time (s)</text>
<text transform="translate(68,542) rotate(-90) scale(0.985,1)" text-anchor="middle" class="ti"><tspan style="font-family:'Liberation Sans',sans-serif" font-size="45">σ</tspan><tspan font-size="35.5" dy="15">22</tspan><tspan dy="-15"> (MPa)</tspan></text>
</svg>
</body></html>
